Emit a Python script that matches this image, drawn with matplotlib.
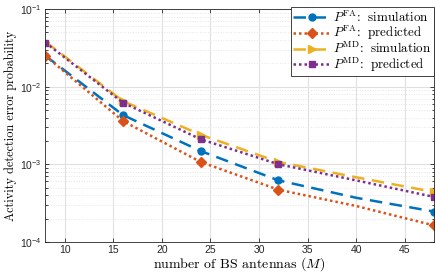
import numpy as np
import matplotlib
matplotlib.use('Agg')
import matplotlib.pyplot as plt
from matplotlib import rcParams
import matplotlib.ticker as ticker

rcParams['mathtext.fontset'] = 'custom'
rcParams['mathtext.rm'] = 'cmr10'
rcParams['mathtext.it'] = 'cmmi10'
rcParams['mathtext.bf'] = 'cmb10'
rcParams['mathtext.sf'] = 'Liberation Sans'
rcParams['font.family'] = ['Liberation Sans', 'DejaVu Sans']

colorBlue = '#0072BD'
colorOrange = '#D95319'
colorYellow = '#EDB120'
colorPurple = '#7E2F8E'

antennas = [8, 16, 24, 32, 40, 48]
faSim = [0.025, 0.0043, 0.00148, 0.00062, 0.00037, 0.000246]
faPred = [0.025, 0.0036, 0.00107, 0.00047, 0.00029, 0.000163]
mdSim = [0.038, 0.0065, 0.0024, 0.00107, 0.00068, 0.00044]
mdPred = [0.037, 0.0062, 0.0021, 0.00100, 0.00062, 0.00038]
labels = [r'$P^{\mathrm{FA}}$: $\;$simulation', r'$P^{\mathrm{FA}}$: $\;$predicted',
          r'$P^{\mathrm{MD}}$: $\;$simulation', r'$P^{\mathrm{MD}}$: $\;$predicted']
marks = [0, 1, 2, 3, 5]


def logLabel(v, pos):
    e = int(round(np.log10(v)))
    return r'$\mathsf{10^{%d}}$' % e


fig, ax = plt.subplots(figsize=(4.36, 2.73), dpi=100)
fig.subplots_adjust(left=0.104, right=0.995, top=0.967, bottom=0.114)

lw = 1.8
ax.semilogy(antennas, faSim, linestyle=(0, (5, 3)), color=colorBlue, linewidth=lw,
            marker='o', markersize=5, markevery=marks, label=labels[0])
ax.semilogy(antennas, faPred, linestyle=(0, (1, 1.2)), color=colorOrange, linewidth=lw,
            marker='D', markersize=5, markevery=marks, label=labels[1])
ax.semilogy(antennas, mdSim, linestyle=(0, (5, 3)), color=colorYellow, linewidth=lw,
            marker='>', markersize=6, markevery=marks, label=labels[2])
ax.semilogy(antennas, mdPred, linestyle=(0, (1, 1.2)), color=colorPurple, linewidth=lw,
            marker='s', markersize=5, markevery=marks, label=labels[3])

ax.set_xlim(8, 48)
ax.set_ylim(1e-4, 1e-1)
ax.set_xticks([10, 15, 20, 25, 30, 35, 40, 45])
ax.yaxis.set_major_formatter(ticker.FuncFormatter(logLabel))
ax.yaxis.set_minor_locator(ticker.LogLocator(base=10, subs=np.arange(2, 10)))
ax.yaxis.set_minor_formatter(ticker.NullFormatter())

ax.grid(True, which='major', color='#e0e0e0', linewidth=0.8)
ax.grid(True, which='minor', axis='y', color='#e6e6e6', linestyle=':', linewidth=0.7)
ax.set_axisbelow(True)

ax.tick_params(which='both', direction='in', top=True, right=True, labelsize=7.5,
               colors='#262626', width=0.6, pad=2.5)
ax.tick_params(which='major', length=3)
ax.tick_params(which='minor', length=1.8)
for s in ax.spines.values():
    s.set_linewidth(0.6)
    s.set_color('#262626')

ax.set_xlabel(r'number of BS antennas ($M$)', fontsize=10, family='cmr10', labelpad=0)
ax.set_ylabel('Activity detection error probability', fontsize=8.8, family='cmr10', labelpad=2)

leg = ax.legend(loc='upper right', bbox_to_anchor=(1.0, 1.01), fontsize=9.4, frameon=True,
                fancybox=False, edgecolor='#262626', framealpha=1, borderpad=0.22,
                labelspacing=-0.08, handlelength=2.8, handletextpad=0.2, borderaxespad=0.0)
leg.get_frame().set_linewidth(0.6)
for t in leg.get_texts():
    t.set_family('cmr10')

plt.savefig('out.png', dpi=100)
